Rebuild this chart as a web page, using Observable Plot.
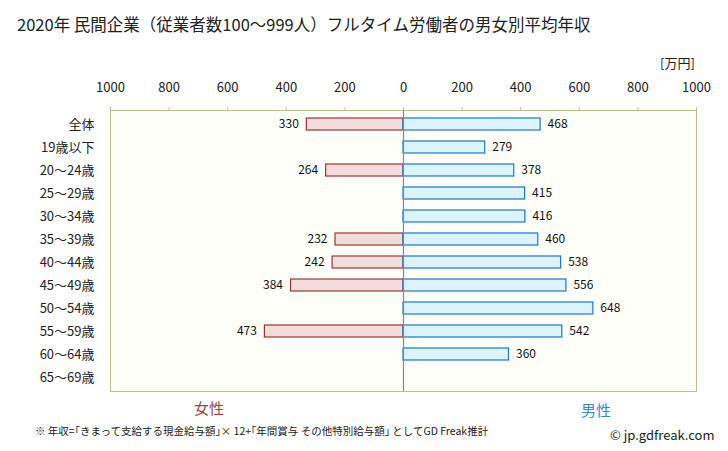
<!DOCTYPE html>
<html><head><meta charset="utf-8">
<script src="https://cdn.jsdelivr.net/npm/d3@7"></script>
<script src="https://cdn.jsdelivr.net/npm/@observablehq/plot@0.6"></script>
<style>
body{margin:0;background:#fff;font-family:"Noto Sans CJK JP","Noto Sans",sans-serif;}
#wrap{position:relative;width:728px;height:451px;}
.abs{position:absolute;white-space:nowrap;color:#222;}
</style></head><body>
<div id="wrap">
<div class="abs" style="left:17px;top:12px;font-size:16.5px;">2020年 民間企業（従業者数100〜999人）フルタイム労働者の男女別平均年収</div>
<div class="abs" style="left:660px;top:53px;font-size:13px;">[万円]</div>
<div class="abs" style="left:194px;top:397px;font-size:15px;color:#a04040;">女性</div>
<div class="abs" style="left:581px;top:399px;font-size:15px;color:#3a8ad0;">男性</div>
<div class="abs" style="left:35px;top:423px;font-size:10.5px;">※ 年収=｢きまって支給する現金給与額｣× 12+｢年間賞与 その他特別給与額｣ としてGD Freak推計</div>
<div class="abs" style="left:610px;top:425px;font-size:13px;">© jp.gdfreak.com</div>
</div>
<script>
const categories = ["全体","19歳以下","20〜24歳","25〜29歳","30〜34歳","35〜39歳","40〜44歳","45〜49歳","50〜54歳","55〜59歳","60〜64歳","65〜69歳"];
const female = [330, null, 264, null, null, 232, 242, 384, null, 473, null, null];
const male = [468, 279, 378, 415, 416, 460, 538, 556, 648, 542, 360, null];
const ticks = [-1000,-800,-600,-400,-200,0,200,400,600,800,1000];

const fData = categories.map((c,i)=>({c, v: female[i]})).filter(d=>d.v!=null);
const mData = categories.map((c,i)=>({c, v: male[i]})).filter(d=>d.v!=null);

const chart = Plot.plot({
  width: 728, height: 451,
  marginLeft: 110, marginRight: 32, marginTop: 110, marginBottom: 60,
  style: {fontFamily: '"Noto Sans CJK JP","Noto Sans",sans-serif', fontSize: "12px", color: "#222", background: "transparent"},
  x: {domain: [-1000, 1000], axis: null, label: null},
  y: {domain: categories, paddingInner: 0.49, paddingOuter: 0.245, axis: null, label: null},
  marks: [
    Plot.frame({fill: "#fffffa", stroke: "#c8bc8c"}),
    Plot.axisX({anchor: "top", ticks, tickFormat: d => String(Math.abs(d)), tickSize: 4, tickPadding: 15, stroke: "#c8bc8c", fontSize: 13, color: "#222", label: null}),
    Plot.axisY({anchor: "left", tickSize: 0, tickPadding: 16, fontSize: 13, label: null}),
    Plot.barX(fData, {x1: 0, x2: d => -d.v, y: "c", fill: "#f2dcdc", stroke: "#a03434", strokeWidth: 1.2}),
    Plot.barX(mData, {x1: 0, x2: "v", y: "c", fill: "#dcf4fe", stroke: "#1a78c8", strokeWidth: 1.2}),
    Plot.ruleX([0], {stroke: "#888", strokeWidth: 1.2}),
    Plot.text(fData, {x: d => -d.v, y: "c", text: d => String(d.v), textAnchor: "end", dx: -8, fontSize: 12, fill: "#111"}),
    Plot.text(mData, {x: "v", y: "c", text: d => String(d.v), textAnchor: "start", dx: 7, fontSize: 12, fill: "#111"})
  ]
});
chart.style.position = "absolute";
chart.style.left = "0";
chart.style.top = "0";
document.getElementById("wrap").prepend(chart);
</script>
</body></html>
